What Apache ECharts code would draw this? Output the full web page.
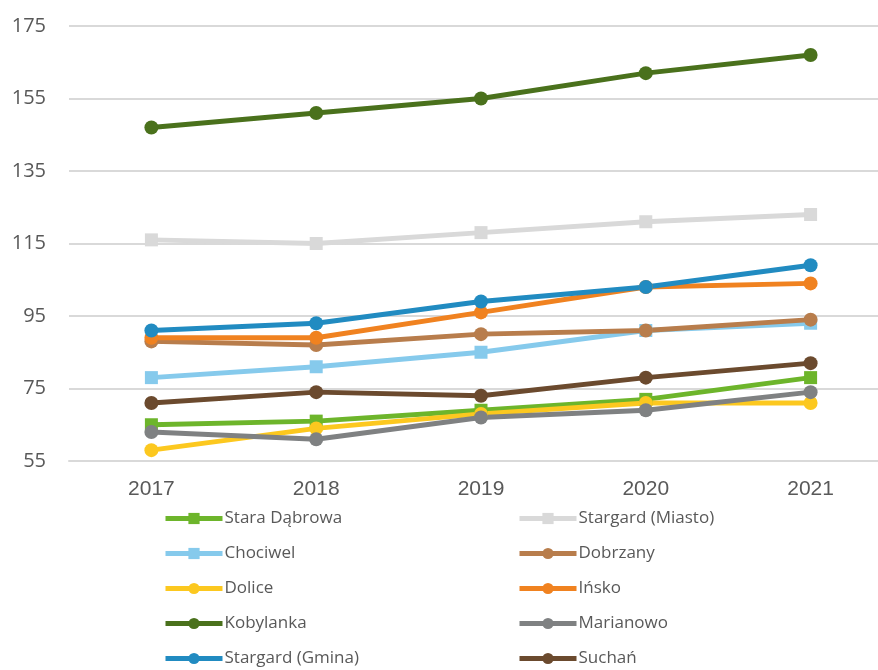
<!DOCTYPE html>
<html>
<head>
<meta charset="utf-8">
<script src="https://cdn.jsdelivr.net/npm/echarts@6/dist/echarts.min.js"></script>
<style>
  html, body { margin: 0; padding: 0; background: #fff; }
  #chart { width: 878px; height: 670px; }
</style>
</head>
<body>
<div id="chart"></div>
<script>
const years = ['2017', '2018', '2019', '2020', '2021'];

const staraDabrowa = [65, 66, 69, 72, 78];
const stargardMiasto = [116, 115, 118, 121, 123];
const chociwel = [78, 81, 85, 91, 93];
const dobrzany = [88, 87, 90, 91, 94];
const dolice = [58, 64, 68, 71, 71];
const insko = [89, 89, 96, 103, 104];
const kobylanka = [147, 151, 155, 162, 167];
const marianowo = [63, 61, 67, 69, 74];
const stargardGmina = [91, 93, 99, 103, 109];
const suchan = [71, 74, 73, 78, 82];

const font = 'Open Sans, Noto Sans, sans-serif';

function line(name, data, color, symbol) {
  return {
    name: name,
    type: 'line',
    data: data,
    symbol: symbol,
    symbolSize: symbol === 'rect' ? 13 : 14,
    lineStyle: { color: color, width: 5 },
    itemStyle: { color: color },
    emphasis: { disabled: true }
  };
}

function legendCol(left, names) {
  return {
    orient: 'vertical',
    left: left,
    top: 510,
    padding: 0,
    itemGap: 18,
    itemWidth: 57,
    itemHeight: 14,
    lineStyle: { width: 5 },
    textStyle: { color: '#595959', fontSize: 17, fontFamily: font, padding: [0, 0, 0, -3] },
    data: names
  };
}

const chart = echarts.init(document.getElementById('chart'));
chart.setOption({
  backgroundColor: '#ffffff',
  animation: false,
  grid: { left: 69, width: 824, top: 26, bottom: 209, outerBoundsMode: 'none' },
  legend: [
    legendCol(163, ['Stara Dąbrowa', 'Chociwel', 'Dolice', 'Kobylanka', 'Stargard (Gmina)']),
    legendCol(517, ['Stargard (Miasto)', 'Dobrzany', 'Ińsko', 'Marianowo', 'Suchań'])
  ],
  xAxis: {
    type: 'category',
    data: years,
    boundaryGap: true,
    axisLine: { lineStyle: { color: '#d9d9d9', width: 2 } },
    axisTick: { show: false },
    axisLabel: { color: '#595959', fontSize: 21, fontFamily: 'Liberation Sans, Arial, sans-serif', margin: 18 }
  },
  yAxis: {
    type: 'value',
    min: 55,
    max: 175,
    interval: 20,
    axisLine: { show: false },
    axisTick: { show: false },
    axisLabel: { color: '#595959', fontSize: 20, fontFamily: font, margin: 23 },
    splitLine: { lineStyle: { color: '#d9d9d9', width: 2 } }
  },
  series: [
    line('Stara Dąbrowa', staraDabrowa, '#6db52b', 'rect'),
    line('Stargard (Miasto)', stargardMiasto, '#d9d9d9', 'rect'),
    line('Chociwel', chociwel, '#86caec', 'rect'),
    line('Dobrzany', dobrzany, '#b87d4c', 'circle'),
    line('Dolice', dolice, '#fcc81f', 'circle'),
    line('Ińsko', insko, '#f08220', 'circle'),
    line('Kobylanka', kobylanka, '#4a711c', 'circle'),
    line('Marianowo', marianowo, '#7f8182', 'circle'),
    line('Stargard (Gmina)', stargardGmina, '#218bc1', 'circle'),
    line('Suchań', suchan, '#6b4a2e', 'circle')
  ]
});
</script>
</body>
</html>
